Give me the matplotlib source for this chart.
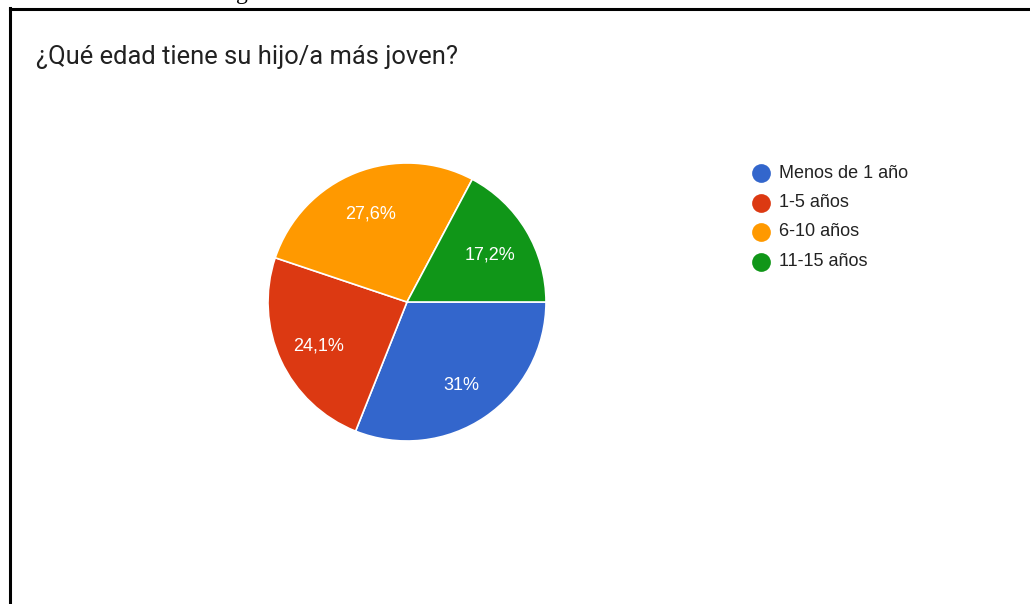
import matplotlib
matplotlib.use("Agg")
import matplotlib.pyplot as plt
from matplotlib.lines import Line2D
import numpy as np

title = "¿Qué edad tiene su hijo/a más joven?"
categories = ["Menos de 1 año", "1-5 años", "6-10 años", "11-15 años"]
values = [31.0, 24.1, 27.6, 17.2]
pct_labels = ["31%", "24,1%", "27,6%", "17,2%"]
colors = ["#3366cc", "#dc3912", "#ff9900", "#109618"]

W, H = 1030, 604
fig = plt.figure(figsize=(W / 100, H / 100), dpi=100)
fig.patch.set_facecolor("white")

# frame lines (top and left)
fig.add_artist(Line2D([10 / W, 1.0], [1 - 9 / H, 1 - 9 / H], color="black", lw=2.2,
                      transform=fig.transFigure))
fig.add_artist(Line2D([10 / W, 10 / W], [0, 1 - 8 / H], color="black", lw=2.2,
                      transform=fig.transFigure))
# clipped caption glyph at top edge
fig.text(236 / W, 1 + 1 / H, "g", family="Liberation Serif", fontsize=17,
         ha="left", va="baseline", color="black")

fig.text(36 / W, 1 - 57 / H, title, family="Roboto", fontsize=18.4,
         color="#212121", ha="left", va="center")

# pie
cx, cy, r = 407, 302, 139
ax = fig.add_axes([(cx - r) / W, 1 - (cy + r) / H, 2 * r / W, 2 * r / H])
ax.pie(values, colors=colors, startangle=0, counterclock=False,
       radius=1.0, wedgeprops=dict(edgecolor="white", linewidth=1.2))
ax.set_xlim(-1, 1)
ax.set_ylim(-1, 1)
ax.set_aspect("equal")
ax.axis("off")

start = 0.0
total = sum(values)
for v, lab in zip(values, pct_labels):
    ang = start - v / total * 360 / 2
    start -= v / total * 360
    a = np.deg2rad(ang)
    ax.text(0.70 * np.cos(a), 0.70 * np.sin(a) - 0.02, lab, ha="center", va="center",
            color="white", fontsize=13, family="Liberation Sans")

# legend
for i, (cat, col) in enumerate(zip(categories, colors)):
    y = 173 + 29.5 * i
    fig.lines.append(Line2D([761 / W], [1 - y / H], marker="o", markersize=13.5,
                            color=col, markeredgewidth=0, transform=fig.transFigure,
                            figure=fig))
    fig.text(779 / W, 1 - y / H, cat, family="Liberation Sans", fontsize=13,
             color="#222222", ha="left", va="center")

fig.savefig("out.png", dpi=100)
